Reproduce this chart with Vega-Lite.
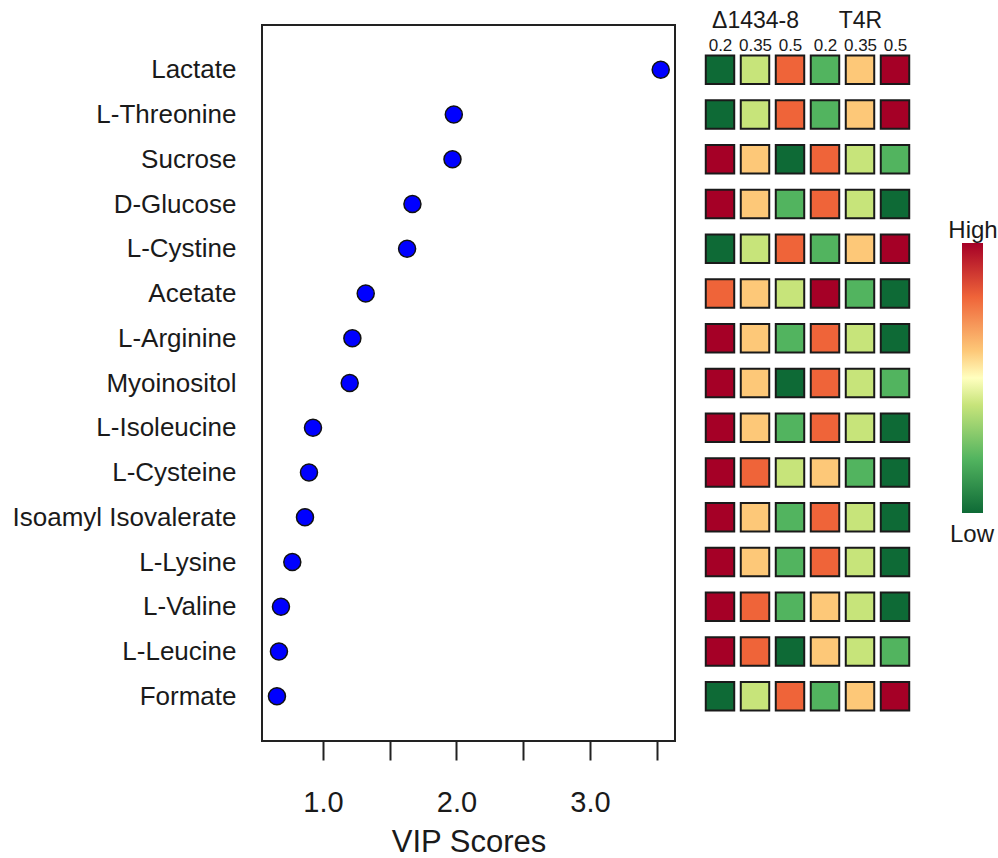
{
  "$schema": "https://vega.github.io/schema/vega-lite/v6.json",
  "background": "white",
  "padding": {"left": 11, "top": 9, "right": 0, "bottom": 5},
  "bounds": "flush",
  "spacing": 27.5,
  "config": {
    "font": "Liberation Sans",
    "axis": {"labelColor": "#1a1a1a", "titleColor": "#1a1a1a", "labelFont": "Liberation Sans", "titleFont": "Liberation Sans", "titleFontWeight": "normal", "grid": false}
  },
  "datasets": {
    "vip": [
      {"metabolite": "Lactate", "vip": 3.53},
      {"metabolite": "L-Threonine", "vip": 1.98},
      {"metabolite": "Sucrose", "vip": 1.97},
      {"metabolite": "D-Glucose", "vip": 1.67},
      {"metabolite": "L-Cystine", "vip": 1.63},
      {"metabolite": "Acetate", "vip": 1.32},
      {"metabolite": "L-Arginine", "vip": 1.22},
      {"metabolite": "Myoinositol", "vip": 1.20},
      {"metabolite": "L-Isoleucine", "vip": 0.925},
      {"metabolite": "L-Cysteine", "vip": 0.895},
      {"metabolite": "Isoamyl Isovalerate", "vip": 0.865},
      {"metabolite": "L-Lysine", "vip": 0.77},
      {"metabolite": "L-Valine", "vip": 0.685},
      {"metabolite": "L-Leucine", "vip": 0.67},
      {"metabolite": "Formate", "vip": 0.655}
    ],
    "strains": [{"strain": "Δ1434-8"}, {"strain": "T4R"}],
    "heat": [
      {"metabolite": "Lactate", "sample": "Δ1434-8 0.2", "rank": 1},
      {"metabolite": "Lactate", "sample": "Δ1434-8 0.35", "rank": 3},
      {"metabolite": "Lactate", "sample": "Δ1434-8 0.5", "rank": 5},
      {"metabolite": "Lactate", "sample": "T4R 0.2", "rank": 2},
      {"metabolite": "Lactate", "sample": "T4R 0.35", "rank": 4},
      {"metabolite": "Lactate", "sample": "T4R 0.5", "rank": 6},
      {"metabolite": "L-Threonine", "sample": "Δ1434-8 0.2", "rank": 1},
      {"metabolite": "L-Threonine", "sample": "Δ1434-8 0.35", "rank": 3},
      {"metabolite": "L-Threonine", "sample": "Δ1434-8 0.5", "rank": 5},
      {"metabolite": "L-Threonine", "sample": "T4R 0.2", "rank": 2},
      {"metabolite": "L-Threonine", "sample": "T4R 0.35", "rank": 4},
      {"metabolite": "L-Threonine", "sample": "T4R 0.5", "rank": 6},
      {"metabolite": "Sucrose", "sample": "Δ1434-8 0.2", "rank": 6},
      {"metabolite": "Sucrose", "sample": "Δ1434-8 0.35", "rank": 4},
      {"metabolite": "Sucrose", "sample": "Δ1434-8 0.5", "rank": 1},
      {"metabolite": "Sucrose", "sample": "T4R 0.2", "rank": 5},
      {"metabolite": "Sucrose", "sample": "T4R 0.35", "rank": 3},
      {"metabolite": "Sucrose", "sample": "T4R 0.5", "rank": 2},
      {"metabolite": "D-Glucose", "sample": "Δ1434-8 0.2", "rank": 6},
      {"metabolite": "D-Glucose", "sample": "Δ1434-8 0.35", "rank": 4},
      {"metabolite": "D-Glucose", "sample": "Δ1434-8 0.5", "rank": 2},
      {"metabolite": "D-Glucose", "sample": "T4R 0.2", "rank": 5},
      {"metabolite": "D-Glucose", "sample": "T4R 0.35", "rank": 3},
      {"metabolite": "D-Glucose", "sample": "T4R 0.5", "rank": 1},
      {"metabolite": "L-Cystine", "sample": "Δ1434-8 0.2", "rank": 1},
      {"metabolite": "L-Cystine", "sample": "Δ1434-8 0.35", "rank": 3},
      {"metabolite": "L-Cystine", "sample": "Δ1434-8 0.5", "rank": 5},
      {"metabolite": "L-Cystine", "sample": "T4R 0.2", "rank": 2},
      {"metabolite": "L-Cystine", "sample": "T4R 0.35", "rank": 4},
      {"metabolite": "L-Cystine", "sample": "T4R 0.5", "rank": 6},
      {"metabolite": "Acetate", "sample": "Δ1434-8 0.2", "rank": 5},
      {"metabolite": "Acetate", "sample": "Δ1434-8 0.35", "rank": 4},
      {"metabolite": "Acetate", "sample": "Δ1434-8 0.5", "rank": 3},
      {"metabolite": "Acetate", "sample": "T4R 0.2", "rank": 6},
      {"metabolite": "Acetate", "sample": "T4R 0.35", "rank": 2},
      {"metabolite": "Acetate", "sample": "T4R 0.5", "rank": 1},
      {"metabolite": "L-Arginine", "sample": "Δ1434-8 0.2", "rank": 6},
      {"metabolite": "L-Arginine", "sample": "Δ1434-8 0.35", "rank": 4},
      {"metabolite": "L-Arginine", "sample": "Δ1434-8 0.5", "rank": 2},
      {"metabolite": "L-Arginine", "sample": "T4R 0.2", "rank": 5},
      {"metabolite": "L-Arginine", "sample": "T4R 0.35", "rank": 3},
      {"metabolite": "L-Arginine", "sample": "T4R 0.5", "rank": 1},
      {"metabolite": "Myoinositol", "sample": "Δ1434-8 0.2", "rank": 6},
      {"metabolite": "Myoinositol", "sample": "Δ1434-8 0.35", "rank": 4},
      {"metabolite": "Myoinositol", "sample": "Δ1434-8 0.5", "rank": 1},
      {"metabolite": "Myoinositol", "sample": "T4R 0.2", "rank": 5},
      {"metabolite": "Myoinositol", "sample": "T4R 0.35", "rank": 3},
      {"metabolite": "Myoinositol", "sample": "T4R 0.5", "rank": 2},
      {"metabolite": "L-Isoleucine", "sample": "Δ1434-8 0.2", "rank": 6},
      {"metabolite": "L-Isoleucine", "sample": "Δ1434-8 0.35", "rank": 4},
      {"metabolite": "L-Isoleucine", "sample": "Δ1434-8 0.5", "rank": 2},
      {"metabolite": "L-Isoleucine", "sample": "T4R 0.2", "rank": 5},
      {"metabolite": "L-Isoleucine", "sample": "T4R 0.35", "rank": 3},
      {"metabolite": "L-Isoleucine", "sample": "T4R 0.5", "rank": 1},
      {"metabolite": "L-Cysteine", "sample": "Δ1434-8 0.2", "rank": 6},
      {"metabolite": "L-Cysteine", "sample": "Δ1434-8 0.35", "rank": 5},
      {"metabolite": "L-Cysteine", "sample": "Δ1434-8 0.5", "rank": 3},
      {"metabolite": "L-Cysteine", "sample": "T4R 0.2", "rank": 4},
      {"metabolite": "L-Cysteine", "sample": "T4R 0.35", "rank": 2},
      {"metabolite": "L-Cysteine", "sample": "T4R 0.5", "rank": 1},
      {"metabolite": "Isoamyl Isovalerate", "sample": "Δ1434-8 0.2", "rank": 6},
      {"metabolite": "Isoamyl Isovalerate", "sample": "Δ1434-8 0.35", "rank": 4},
      {"metabolite": "Isoamyl Isovalerate", "sample": "Δ1434-8 0.5", "rank": 2},
      {"metabolite": "Isoamyl Isovalerate", "sample": "T4R 0.2", "rank": 5},
      {"metabolite": "Isoamyl Isovalerate", "sample": "T4R 0.35", "rank": 3},
      {"metabolite": "Isoamyl Isovalerate", "sample": "T4R 0.5", "rank": 1},
      {"metabolite": "L-Lysine", "sample": "Δ1434-8 0.2", "rank": 6},
      {"metabolite": "L-Lysine", "sample": "Δ1434-8 0.35", "rank": 4},
      {"metabolite": "L-Lysine", "sample": "Δ1434-8 0.5", "rank": 2},
      {"metabolite": "L-Lysine", "sample": "T4R 0.2", "rank": 5},
      {"metabolite": "L-Lysine", "sample": "T4R 0.35", "rank": 3},
      {"metabolite": "L-Lysine", "sample": "T4R 0.5", "rank": 1},
      {"metabolite": "L-Valine", "sample": "Δ1434-8 0.2", "rank": 6},
      {"metabolite": "L-Valine", "sample": "Δ1434-8 0.35", "rank": 5},
      {"metabolite": "L-Valine", "sample": "Δ1434-8 0.5", "rank": 2},
      {"metabolite": "L-Valine", "sample": "T4R 0.2", "rank": 4},
      {"metabolite": "L-Valine", "sample": "T4R 0.35", "rank": 3},
      {"metabolite": "L-Valine", "sample": "T4R 0.5", "rank": 1},
      {"metabolite": "L-Leucine", "sample": "Δ1434-8 0.2", "rank": 6},
      {"metabolite": "L-Leucine", "sample": "Δ1434-8 0.35", "rank": 5},
      {"metabolite": "L-Leucine", "sample": "Δ1434-8 0.5", "rank": 1},
      {"metabolite": "L-Leucine", "sample": "T4R 0.2", "rank": 4},
      {"metabolite": "L-Leucine", "sample": "T4R 0.35", "rank": 3},
      {"metabolite": "L-Leucine", "sample": "T4R 0.5", "rank": 2},
      {"metabolite": "Formate", "sample": "Δ1434-8 0.2", "rank": 1},
      {"metabolite": "Formate", "sample": "Δ1434-8 0.35", "rank": 3},
      {"metabolite": "Formate", "sample": "Δ1434-8 0.5", "rank": 5},
      {"metabolite": "Formate", "sample": "T4R 0.2", "rank": 2},
      {"metabolite": "Formate", "sample": "T4R 0.35", "rank": 4},
      {"metabolite": "Formate", "sample": "T4R 0.5", "rank": 6}
    ]
  },
  "hconcat": [
    {
      "width": 413,
      "height": 716,
      "view": {"stroke": "#222222", "strokeWidth": 2},
      "data": {"name": "vip"},
      "mark": {"type": "circle", "size": 290, "color": "#0000ff", "stroke": "#111111", "strokeWidth": 1.5, "opacity": 1},
      "encoding": {
        "x": {
          "field": "vip", "type": "quantitative",
          "scale": {"domain": [0.543, 3.637], "nice": false, "zero": false},
          "axis": {
            "title": "VIP Scores", "titleFontSize": 31, "titlePadding": 10,
            "values": [1, 1.5, 2, 2.5, 3, 3.5],
            "labelExpr": "datum.value % 1 == 0 ? format(datum.value, '.1f') : ''",
            "labelFontSize": 29, "labelPadding": 28, "labelOverlap": false,
            "domain": false, "ticks": true, "tickSize": 19, "tickWidth": 2, "tickColor": "#222222"
          }
        },
        "y": {
          "field": "metabolite", "type": "nominal",
          "sort": ["Lactate", "L-Threonine", "Sucrose", "D-Glucose", "L-Cystine", "Acetate", "L-Arginine", "Myoinositol", "L-Isoleucine", "L-Cysteine", "Isoamyl Isovalerate", "L-Lysine", "L-Valine", "L-Leucine", "Formate"],
          "scale": {"type": "point", "padding": 1},
          "axis": {"title": null, "labelFontSize": 26, "labelPadding": 26, "ticks": false, "domain": false, "labelLimit": 400}
        }
      }
    },
    {
      "width": 210,
      "height": 716,
      "view": {"stroke": null},
      "layer": [
        {
          "data": {"name": "heat"},
          "mark": {"type": "square", "size": 810, "stroke": "#1a1a1a", "strokeWidth": 2, "opacity": 1},
          "encoding": {
            "x": {
              "field": "sample", "type": "nominal",
              "sort": ["Δ1434-8 0.2", "Δ1434-8 0.35", "Δ1434-8 0.5", "T4R 0.2", "T4R 0.35", "T4R 0.5"],
              "scale": {"type": "point", "padding": 0.5},
              "axis": {"orient": "top", "title": null, "labelExpr": "split(datum.label, ' ')[1]", "labelFontSize": 17, "labelAngle": 0, "labelOverlap": false, "labelBound": false, "ticks": false, "domain": false, "labelPadding": 0, "offset": -29}
            },
            "y": {
              "field": "metabolite", "type": "nominal",
              "sort": ["Lactate", "L-Threonine", "Sucrose", "D-Glucose", "L-Cystine", "Acetate", "L-Arginine", "Myoinositol", "L-Isoleucine", "L-Cysteine", "Isoamyl Isovalerate", "L-Lysine", "L-Valine", "L-Leucine", "Formate"],
              "scale": {"type": "point", "padding": 1},
              "axis": null
            },
            "color": {
              "field": "rank", "type": "quantitative",
              "scale": {"domain": [1, 2, 3, 3.5, 4, 5, 6], "range": ["#0e6a36", "#52b45f", "#c7e47a", "#ffffbf", "#fdc878", "#ef6439", "#a50026"], "interpolate": "rgb"},
              "legend": {
                "orient": "none", "legendX": 686, "legendY": 194, "direction": "vertical",
                "gradientLength": 270, "gradientThickness": 21, "gradientStrokeWidth": 0,
                "title": "High", "titleFontSize": 24, "titleFontWeight": "normal", "titleColor": "#1a1a1a", "titleAnchor": "middle", "titleAlign": "center", "titlePadding": 0,
                "values": [1], "labelExpr": "''", "labelFontSize": 1, "labelOffset": 0, "padding": 0
              }
            }
          }
        },
        {
          "data": {"name": "strains"},
          "mark": {"type": "tick"},
          "encoding": {
            "x": {
              "field": "strain", "type": "nominal", "sort": ["Δ1434-8", "T4R"],
              "scale": {"type": "point", "padding": 0.5},
              "axis": {"orient": "top", "title": null, "labelFontSize": 23, "labelAngle": 0, "labelOverlap": false, "labelBound": false, "ticks": false, "domain": false, "labelPadding": 0, "offset": -7}
            },
            "opacity": {
              "field": "strain", "type": "nominal",
              "scale": {"range": [0, 0]},
              "legend": {
                "orient": "none", "legendX": 688, "legendY": 498,
                "title": "Low", "titleFontSize": 24, "titleFontWeight": "normal", "titleColor": "#1a1a1a", "titlePadding": 0,
                "labelExpr": "''", "labelFontSize": 1, "symbolOpacity": 0, "symbolSize": 1, "symbolStrokeWidth": 0, "rowPadding": 0, "padding": 0
              }
            }
          }
        }
      ],
      "resolve": {"scale": {"x": "independent"}, "axis": {"x": "independent"}}
    }
  ]
}
